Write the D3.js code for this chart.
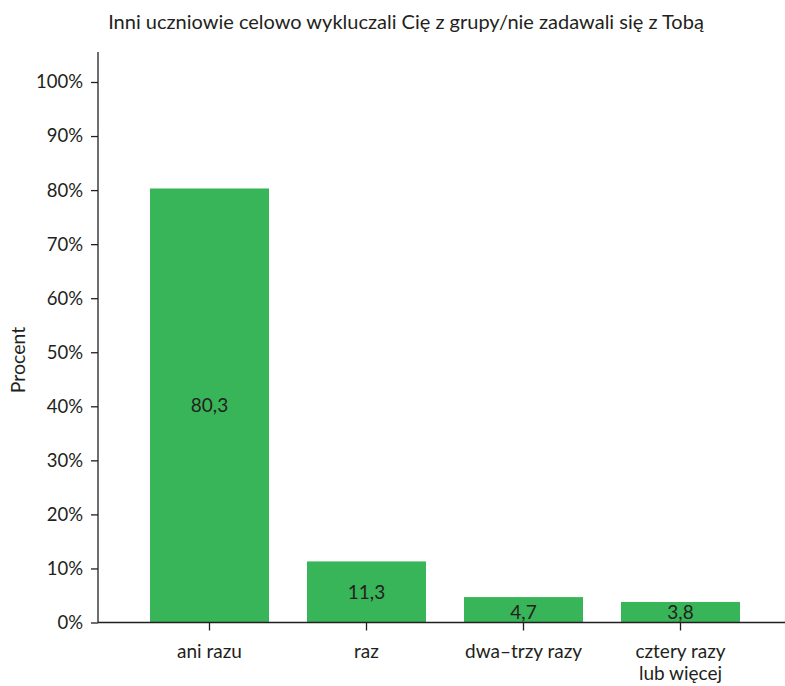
<!DOCTYPE html>
<html><head><meta charset="utf-8">
<script src="https://cdn.jsdelivr.net/npm/d3@7"></script>
<style>body{margin:0;background:#fff}svg text{font-family:Lato,"Open Sans",sans-serif;fill:#231f20}</style>
</head><body>
<svg id="c" width="785" height="686"></svg>
<script>
const title = "Inni uczniowie celowo wykluczali Cię z grupy/nie zadawali się z Tobą";
const categories = [["ani razu"], ["raz"], ["dwa–trzy razy"], ["cztery razy", "lub więcej"]];
const values = [80.3, 11.3, 4.7, 3.8];
const valueLabels = ["80,3", "11,3", "4,7", "3,8"];
const yTicks = [0, 10, 20, 30, 40, 50, 60, 70, 80, 90, 100];
const yLabel = "Procent";

const svg = d3.select("#c");
const x = d3.scaleBand().domain(d3.range(categories.length)).range([131, 759]).paddingInner(0.242).paddingOuter(0.121);
const y = d3.scaleLinear().domain([0, 100]).range([622.5, 82]);
const green = "#38b558", ink = "#231f20";

svg.append("text").attr("x", 406).attr("y", 29).attr("text-anchor", "middle").attr("font-size", 20).text(title);

svg.selectAll("rect.bar").data(values).join("rect").attr("class", "bar")
  .attr("x", (d, i) => x(i)).attr("width", x.bandwidth())
  .attr("y", d => y(d)).attr("height", d => y(0) - y(d)).attr("fill", green);

svg.selectAll("text.val").data(values).join("text").attr("class", "val")
  .attr("x", (d, i) => x(i) + x.bandwidth() / 2)
  .attr("y", d => (y(0) - y(d) < 30) ? y(0) - 10.5 : (y(d) + y(0)) / 2)
  .attr("dy", "0.36em").attr("text-anchor", "middle").attr("font-size", 19)
  .text((d, i) => valueLabels[i]);

// y axis
const ya = svg.append("g").attr("transform", "translate(98,0)")
  .call(d3.axisLeft(y).tickValues(yTicks).tickFormat(d => d + "%").tickSize(7).tickPadding(8));
ya.select(".domain").attr("d", `M0,${y(0)}V52`).attr("stroke", ink).attr("stroke-width", 1.3);
ya.selectAll(".tick line").attr("stroke", ink).attr("stroke-width", 1.3);
ya.selectAll(".tick text").attr("font-size", 18.5).attr("font-family", "Lato").attr("fill", ink);

// x axis
const xa = svg.append("g").attr("transform", `translate(0,${y(0)})`);
xa.append("line").attr("x1", 98).attr("x2", 785).attr("stroke", ink).attr("stroke-width", 1.3);
xa.selectAll("line.tk").data(categories).join("line").attr("class", "tk")
  .attr("x1", (d, i) => x(i) + x.bandwidth() / 2).attr("x2", (d, i) => x(i) + x.bandwidth() / 2)
  .attr("y1", 0).attr("y2", 8).attr("stroke", ink).attr("stroke-width", 1.3);
xa.selectAll("text.cat").data(categories).join("text").attr("class", "cat")
  .attr("text-anchor", "middle").attr("font-size", 19)
  .attr("transform", (d, i) => `translate(${x(i) + x.bandwidth() / 2},35)`)
  .each(function (d) {
    d3.select(this).selectAll("tspan").data(d).join("tspan").attr("x", 0).attr("dy", (t, j) => j ? 22 : 0).text(t => t);
  });

svg.append("text").attr("transform", "translate(25,360) rotate(-90)").attr("text-anchor", "middle").attr("font-size", 19.5).text(yLabel);
</script>
</body></html>
